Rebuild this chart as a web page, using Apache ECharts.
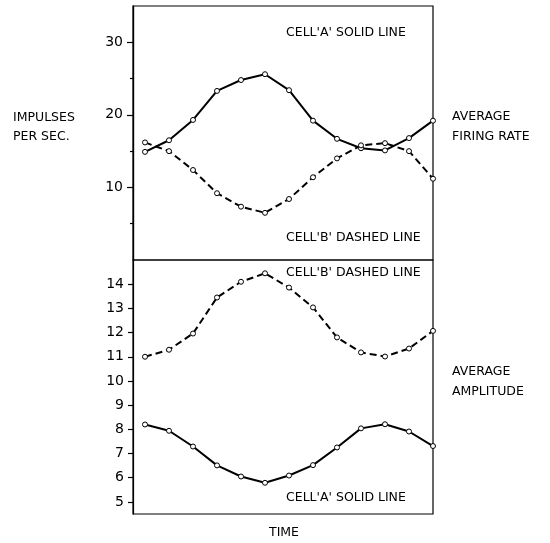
<!DOCTYPE html>
<html>
<head>
<meta charset="utf-8">
<script src="https://cdn.jsdelivr.net/npm/echarts@6/dist/echarts.min.js"></script>
<style>html,body{margin:0;padding:0;background:#fff;}#c{width:550px;height:543px;}</style>
</head>
<body>
<div id="c"></div>
<script>
// time points (index)
const timePoints = [0,1,2,3,4,5,6,7,8,9,10,11,12];
// Average firing rate (impulses per sec.)
const firingA = [14.9,16.5,19.3,23.3,24.8,25.6,23.4,19.2,16.7,15.4,15.1,16.8,19.2];
const firingB = [16.2,15.0,12.4,9.2,7.35,6.5,8.4,11.4,14.0,15.8,16.1,15.0,11.2];
// Average amplitude
const ampB = [11.0,11.29,11.96,13.45,14.1,14.45,13.86,13.04,11.8,11.18,11.01,11.34,12.07];
const ampA = [8.2,7.94,7.29,6.51,6.05,5.79,6.09,6.52,7.25,8.04,8.21,7.91,7.31];
// tick labels
const topMajorTicks = [10,20,30];
const topMinorTicks = [5,15,25];
const bottomTicks = [5,6,7,8,9,10,11,12,13,14];

const FONT = 'DejaVu Sans';
const pairs = arr => timePoints.map((t,i)=>[t,arr[i]]);

const chart = echarts.init(document.getElementById('c'));
const xAx = gi => ({type:'value', gridIndex:gi, min:-0.5, max:12, show:false});
const lineSeries = (data, xi, yi, dashed) => ({
  type:'line', xAxisIndex:xi, yAxisIndex:yi, data:pairs(data),
  symbol:'circle', symbolSize:5, showSymbol:true,
  itemStyle:{color:'#fff', borderColor:'#000', borderWidth:1},
  lineStyle:{color:'#000', width:2, type: dashed ? [7,4] : 'solid'},
  emphasis:{disabled:true}, animation:false, z:3
});
const yBase = {
  type:'value', position:'left',
  axisLine:{show:true, onZero:false, lineStyle:{color:'#000', width:1.2}}, splitLine:{show:false}
};
const textEl = (text, x, y, align) => ({
  type:'text', x:x, y:y,
  style:{text:text, font:'12.5px "'+FONT+'"', fill:'#000', textAlign:align||'left', textVerticalAlign:'middle'}
});

chart.setOption({
  animation:false,
  backgroundColor:'#fff',
  grid:[
    {left:133, top:6, width:300, height:254, show:true, borderColor:'#000', borderWidth:1.2, backgroundColor:'transparent'},
    {left:133, top:260, width:300, height:254, show:true, borderColor:'#000', borderWidth:1.2, backgroundColor:'transparent'}
  ],
  xAxis:[xAx(0), xAx(1)],
  yAxis:[
    Object.assign({}, yBase, {gridIndex:0, min:0, max:35,
      axisTick:{show:true, length:6, customValues:topMajorTicks, lineStyle:{color:'#000', width:1.2}},
      axisLabel:{show:true, customValues:topMajorTicks, margin:10, color:'#000', fontFamily:FONT, fontSize:14}}),
    Object.assign({}, yBase, {gridIndex:0, min:0, max:35,
      axisTick:{show:true, length:3, customValues:topMinorTicks, lineStyle:{color:'#000', width:1.2}},
      axisLabel:{show:false}}),
    Object.assign({}, yBase, {gridIndex:1, min:4.5, max:15,
      axisTick:{show:true, length:5, customValues:bottomTicks, lineStyle:{color:'#000', width:1.2}},
      axisLabel:{show:true, customValues:bottomTicks, margin:9, color:'#000', fontFamily:FONT, fontSize:14}})
  ],
  series:[
    lineSeries(firingA,0,0,false),
    lineSeries(firingB,0,0,true),
    lineSeries(ampB,1,2,true),
    lineSeries(ampA,1,2,false)
  ],
  graphic:[
    textEl("CELL'A' SOLID LINE", 286, 33),
    textEl("CELL'B' DASHED LINE", 286, 238),
    textEl("CELL'B' DASHED LINE", 286, 273),
    textEl("CELL'A' SOLID LINE", 286, 498),
    textEl("IMPULSES", 13, 118),
    textEl("PER SEC.", 13, 137),
    textEl("AVERAGE", 452, 117),
    textEl("FIRING RATE", 452, 137),
    textEl("AVERAGE", 452, 372),
    textEl("AMPLITUDE", 452, 392),
    textEl("TIME", 284, 533, 'center')
  ]
});
</script>
</body>
</html>
